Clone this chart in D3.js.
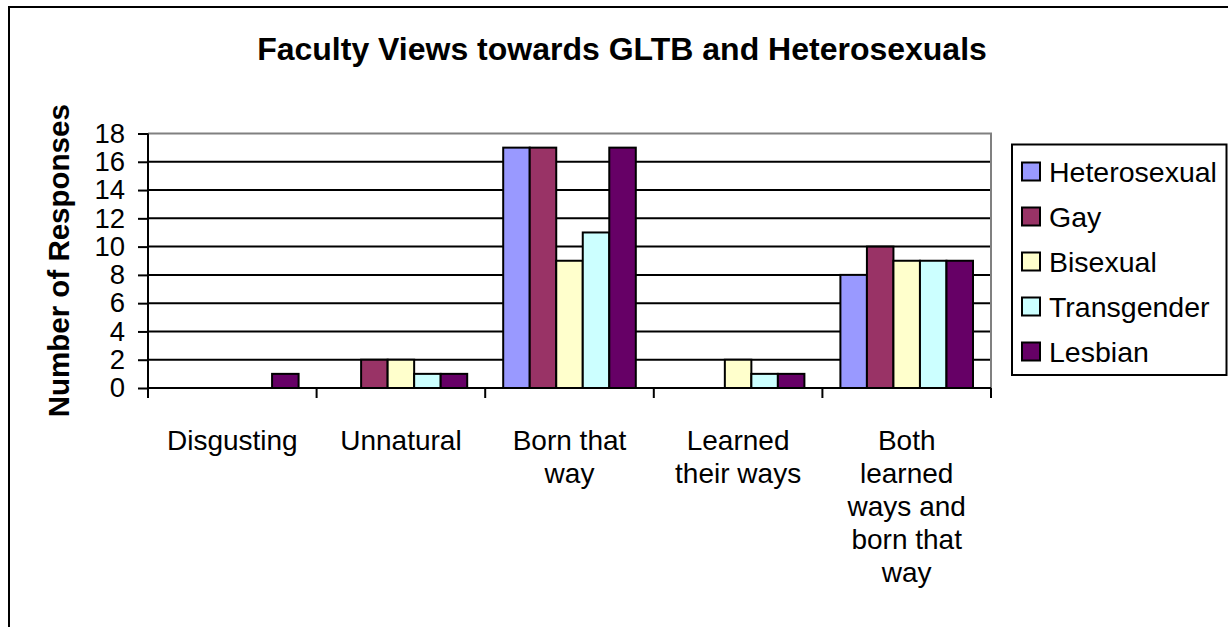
<!DOCTYPE html>
<html>
<head>
<meta charset="utf-8">
<script src="https://d3js.org/d3.v7.min.js"></script>
<style>
  body { margin: 0; background: #fff; }
  svg { display: block; font-family: "Liberation Sans", Arial, sans-serif; }
</style>
</head>
<body>
<div class="chart"></div>
<script>
// data
var categories = ["Disgusting", "Unnatural", "Born that way", "Learned their ways", "Both learned ways and born that way"];
var categoryLines = [["Disgusting"], ["Unnatural"], ["Born that", "way"], ["Learned", "their ways"], ["Both", "learned", "ways and", "born that", "way"]];
var seriesNames = ["Heterosexual", "Gay", "Bisexual", "Transgender", "Lesbian"];
var heterosexual = [0, 0, 17, 0, 8];
var gay = [0, 2, 17, 0, 10];
var bisexual = [0, 2, 9, 2, 9];
var transgender = [0, 1, 11, 1, 9];
var lesbian = [1, 1, 17, 1, 9];
var yTicks = [0, 2, 4, 6, 8, 10, 12, 14, 16, 18];
var colors = ["#9999ff", "#993366", "#ffffcc", "#ccffff", "#660066"];

var seriesValues = [heterosexual, gay, bisexual, transgender, lesbian];

var W = 1228, H = 627;
var plot = {left: 148, right: 991, top: 133.5, bottom: 388};

var svg = d3.select(".chart").append("svg")
    .attr("width", W)
    .attr("height", H);

// outer frame (cut off on the right and bottom)
svg.append("path")
    .attr("d", "M9," + H + "V7H" + W)
    .attr("fill", "none")
    .attr("stroke", "#000")
    .attr("stroke-width", 2);

var x = d3.scaleBand()
    .domain(categories)
    .range([plot.left, plot.right])
    .padding(0);

var gap = 18;
var x1 = d3.scaleBand()
    .domain(seriesNames)
    .range([gap, x.bandwidth() - gap])
    .padding(0);

var y = d3.scaleLinear()
    .domain([0, 18])
    .range([plot.bottom, plot.top]);

// gridlines
svg.append("g")
  .selectAll("line")
  .data(yTicks.filter(function(d){ return d > 0 && d < 18; }))
  .enter().append("line")
    .attr("x1", plot.left)
    .attr("x2", plot.right)
    .attr("y1", function(d){ return y(d); })
    .attr("y2", function(d){ return y(d); })
    .attr("stroke", "#000")
    .attr("stroke-width", 2);

// plot area border top / right
svg.append("path")
    .attr("d", "M" + plot.left + "," + y(18) + "H" + plot.right + "V" + y(0))
    .attr("fill", "none")
    .attr("stroke", "#808080")
    .attr("stroke-width", 2);

// bars
var rows = [];
categories.forEach(function(c, i){
  seriesNames.forEach(function(s, j){
    rows.push({cat: c, series: s, idx: j, value: seriesValues[j][i]});
  });
});

svg.append("g")
  .selectAll("rect")
  .data(rows.filter(function(d){ return d.value > 0; }))
  .enter().append("rect")
    .attr("x", function(d){ return x(d.cat) + x1(d.series); })
    .attr("y", function(d){ return y(d.value); })
    .attr("width", x1.bandwidth())
    .attr("height", function(d){ return y(0) - y(d.value); })
    .attr("fill", function(d){ return colors[d.idx]; })
    .attr("stroke", "#000")
    .attr("stroke-width", 2);

// y axis
var yAxis = d3.axisLeft(y)
    .tickValues(yTicks)
    .tickSize(10)
    .tickPadding(13);

var gy = svg.append("g")
    .attr("transform", "translate(" + plot.left + ",0)")
    .call(yAxis);
gy.select(".domain").remove();
gy.selectAll(".tick line").attr("stroke", "#000").attr("stroke-width", 2);
gy.selectAll(".tick text")
    .attr("font-size", 27.5)
    .attr("font-family", "Liberation Sans, Arial, sans-serif")
    .attr("fill", "#000");

svg.append("line")
    .attr("x1", plot.left).attr("x2", plot.left)
    .attr("y1", y(18)).attr("y2", y(0))
    .attr("stroke", "#000").attr("stroke-width", 2);

// x axis
svg.append("line")
    .attr("x1", plot.left).attr("x2", plot.right)
    .attr("y1", y(0)).attr("y2", y(0))
    .attr("stroke", "#000").attr("stroke-width", 2);

var bounds = categories.map(function(c){ return x(c); }).concat([x.range()[1]]);
svg.append("g")
  .selectAll("line")
  .data(bounds)
  .enter().append("line")
    .attr("x1", function(d){ return d; })
    .attr("x2", function(d){ return d; })
    .attr("y1", y(0))
    .attr("y2", y(0) + 10)
    .attr("stroke", "#000")
    .attr("stroke-width", 2);

var labels = svg.append("g")
  .selectAll("text")
  .data(categories)
  .enter().append("text")
    .attr("text-anchor", "middle")
    .attr("font-size", 28)
    .attr("fill", "#000")
    .attr("transform", function(d){ return "translate(" + (x(d) + x.bandwidth() / 2) + "," + 450 + ")"; });

labels.selectAll("tspan")
  .data(function(d, i){ return categoryLines[i]; })
  .enter().append("tspan")
    .attr("x", 0)
    .attr("y", function(d, i){ return i * 33; })
    .text(function(d){ return d; });

// title
svg.append("text")
    .attr("x", 622)
    .attr("y", 60)
    .attr("text-anchor", "middle")
    .attr("font-size", 32)
    .attr("font-weight", "bold")
    .text("Faculty Views towards GLTB and Heterosexuals");

// y axis title
svg.append("text")
    .attr("transform", "translate(69," + ((plot.top + plot.bottom) / 2) + ") rotate(-90)")
    .attr("text-anchor", "middle")
    .attr("font-size", 29.5)
    .attr("font-weight", "bold")
    .text("Number of Responses");

// legend
var legend = svg.append("g").attr("transform", "translate(1012,144.5)");
legend.append("rect")
    .attr("width", 214.5)
    .attr("height", 230.5)
    .attr("fill", "#fff")
    .attr("stroke", "#000")
    .attr("stroke-width", 2);

var item = legend.selectAll(".item")
  .data(seriesNames)
  .enter().append("g")
    .attr("class", "item")
    .attr("transform", function(d, i){ return "translate(0," + (27 + i * 45) + ")"; });

item.append("rect")
    .attr("x", 10)
    .attr("y", -9)
    .attr("width", 18)
    .attr("height", 18)
    .attr("fill", function(d, i){ return colors[i]; })
    .attr("stroke", "#000")
    .attr("stroke-width", 2);

item.append("text")
    .attr("x", 37)
    .attr("y", 10)
    .attr("font-size", 28.5)
    .text(function(d){ return d; });
</script>
</body>
</html>
